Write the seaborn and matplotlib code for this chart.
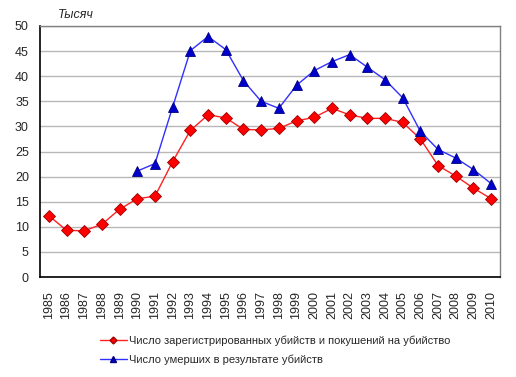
import numpy as np
import pandas as pd
import seaborn as sns
import matplotlib.pyplot as plt
from matplotlib.lines import Line2D

years = list(range(1985, 2011))
registered = [12.2, 9.3, 9.2, 10.5, 13.5, 15.6, 16.1, 23.0, 29.2, 32.3, 31.7, 29.4, 29.3,
              29.6, 31.1, 31.8, 33.6, 32.3, 31.6, 31.6, 30.8, 27.5, 22.2, 20.1, 17.7, 15.6]
died = [np.nan, np.nan, np.nan, np.nan, np.nan, 21.1, 22.6, 33.9, 45.1, 47.9, 45.3, 39.1, 35.0,
        33.6, 38.2, 41.1, 42.9, 44.3, 41.8, 39.3, 35.7, 29.0, 25.4, 23.7, 21.4, 18.6]
label_reg = 'Число зарегистрированных убийств и покушений на убийство'
label_died = 'Число умерших в результате убийств'

df = pd.DataFrame({'year': years, 'reg': registered, 'died': died})

sns.set_style('white')
plt.rcParams['font.family'] = ['Liberation Sans', 'DejaVu Sans']

fig = plt.figure(figsize=(5.16, 3.77), dpi=100)
ax = fig.add_axes([40 / 516, 1 - 277 / 377, 460 / 516, 251 / 377])

red_line, red_face, red_edge = '#ff2020', '#ff0000', '#a00000'
blue_line, blue_face, blue_edge = '#3030ff', '#0000cc', '#000080'

sns.lineplot(data=df, x='year', y='reg', ax=ax, color=red_line, lw=1,
             marker='D', markersize=6, markerfacecolor=red_face,
             markeredgecolor=red_edge, markeredgewidth=0.6, zorder=3)
sns.lineplot(data=df.dropna(), x='year', y='died', ax=ax, color=blue_line, lw=1,
             marker='^', markersize=7, markerfacecolor=blue_face,
             markeredgecolor=blue_edge, markeredgewidth=0.6, zorder=4)

ax.set_xlim(1984.5, 2010.5)
ax.set_ylim(0, 50)
ax.set_yticks(range(0, 51, 5))
ax.set_xticks(years)
ax.set_xticklabels([str(y) for y in years], rotation=90)
ax.tick_params(axis='y', labelsize=9, length=0, pad=8)
ax.tick_params(axis='x', labelsize=9, length=0, pad=10)
ax.set_xlabel('')
ax.set_ylabel('')
ax.yaxis.grid(True, color='#b8b8b8', lw=1)
ax.set_axisbelow(True)
for s in ['top', 'right']:
    ax.spines[s].set_color('#808080')
    ax.spines[s].set_linewidth(1)
for s in ['left', 'bottom']:
    ax.spines[s].set_color('black')
    ax.spines[s].set_linewidth(1.2)

fig.text(58 / 516, 1 - 15 / 377, 'Тысяч', fontsize=9, style='italic', va='center')

handles = [
    Line2D([], [], color=red_line, lw=1, marker='D', markersize=3.5,
           markerfacecolor=red_face, markeredgecolor=red_edge),
    Line2D([], [], color=blue_line, lw=1, marker='^', markersize=4.5,
           markerfacecolor=blue_face, markeredgecolor=blue_edge),
]
fig.legend(handles, [label_reg, label_died], loc='center left', bbox_to_anchor=(100 / 516, 1 - 350 / 377),
           frameon=False, fontsize=8, handlelength=2.4, handletextpad=0.2, labelspacing=0.75,
           borderaxespad=0, borderpad=0)

fig.savefig('out.png', dpi=100)
